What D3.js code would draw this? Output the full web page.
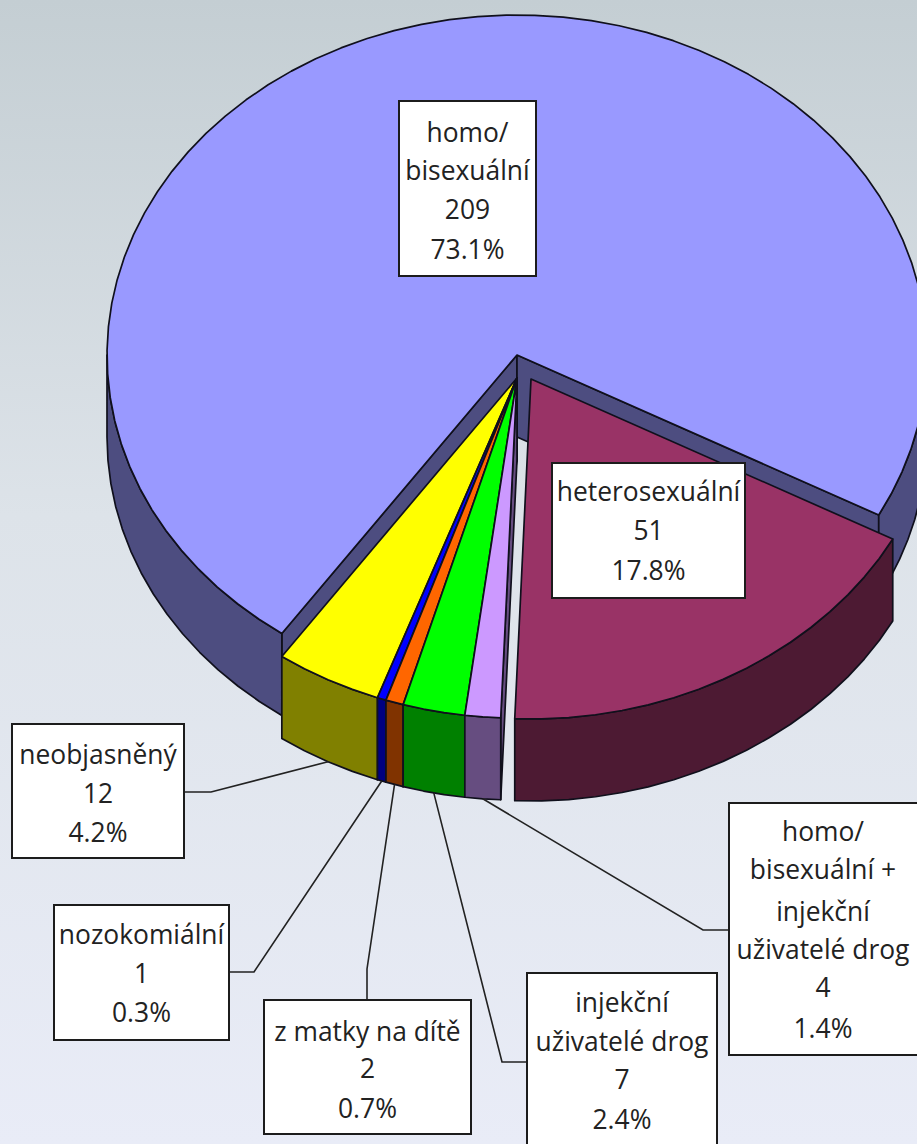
<!DOCTYPE html>
<html>
<head>
<meta charset="utf-8">
<script src="https://cdnjs.cloudflare.com/ajax/libs/d3/7.8.5/d3.min.js"></script>
<style>
  html, body { margin: 0; padding: 0; overflow: hidden; }
  svg { display: block; }
  text { font-family: "Open Sans", "DejaVu Sans", sans-serif; font-size: 26.4px; fill: #222; }
</style>
</head>
<body>
<svg id="chart" width="917" height="1144"></svg>
<script>
  // data
  var categories = [
    ['homo/', 'bisexuální'],
    ['heterosexuální'],
    ['homo/', 'bisexuální +', 'injekční', 'uživatelé drog'],
    ['injekční', 'uživatelé drog'],
    ['z matky na dítě'],
    ['nozokomiální'],
    ['neobjasněný']
  ];
  var counts = [209, 51, 4, 7, 2, 1, 12];
  var percents = ['73.1%', '17.8%', '1.4%', '2.4%', '0.7%', '0.3%', '4.2%'];

  var topColors = ['#9999ff', '#993366', '#cc99ff', '#00ff00', '#ff6600', '#0000ff', '#ffff00'];
  var wallColors = ['#4d4d80', '#4d1a33', '#664d80', '#008000', '#803300', '#000080', '#808000'];

  // layout, same order as the data
  var centers = [[517, 355], [531, 379], [517, 378], [517, 378], [517, 378], [517, 378], [517, 378]];
  var boxes = [
    { x: 399, y: 101, w: 137, h: 175, lineY: [133, 171, 210, 250] },
    { x: 552, y: 463, w: 193, h: 135, lineY: [492, 531, 571] },
    { x: 729, y: 803, w: 190, h: 252, lineY: [832, 870, 912, 950, 988, 1029] },
    { x: 527, y: 973, w: 190, h: 175, lineY: [1003, 1042, 1080, 1120] },
    { x: 264, y: 1000, w: 207, h: 134, lineY: [1032, 1069, 1109] },
    { x: 54, y: 905, w: 175, h: 135, lineY: [935, 974, 1013] },
    { x: 12, y: 724, w: 172, h: 134, lineY: [755, 794, 833] }
  ];
  // leader lines: box end, then elbow, then the rim of the slice
  var leaders = [
    null,
    null,
    [[729, 930], [703, 930]],
    [[527, 1062], [502, 1062]],
    [[367, 1000], [367, 969]],
    [[229, 972], [254, 972]],
    [[184, 792], [211, 792]]
  ];

  var rx = 410, ry = 340, depth = 82;
  var deg = Math.PI / 180;
  var start = 215 * deg;

  var svg = d3.select('#chart');

  var grad = svg.append('defs').append('linearGradient')
    .attr('id', 'bg').attr('x1', 0).attr('y1', 0).attr('x2', 0).attr('y2', 1);
  grad.append('stop').attr('offset', '0%').attr('stop-color', '#c4ced3');
  grad.append('stop').attr('offset', '45%').attr('stop-color', '#dde3e9');
  grad.append('stop').attr('offset', '100%').attr('stop-color', '#e9ecf7');
  svg.append('rect').attr('width', 917).attr('height', 1144).attr('fill', 'url(#bg)');

  var pie = d3.pie().sort(null).startAngle(start).endAngle(start + 2 * Math.PI);
  var slices = pie(counts);

  var line = d3.line();

  function rimPoint(c, a, dy) {
    return [c[0] + rx * Math.sin(a), c[1] - ry * Math.cos(a) + (dy || 0)];
  }

  // rough facets, the source chart has them too
  function rimPoints(c, a0, a1, dy) {
    var pts = [];
    var n = Math.max(1, Math.ceil((a1 - a0) / (4 * deg)));
    for (var i = 0; i <= n; i++) {
      pts.push(rimPoint(c, a0 + (a1 - a0) * i / n, dy));
    }
    return pts;
  }

  function drawPoly(pts, fill) {
    svg.append('path')
      .attr('d', line(pts) + 'Z')
      .attr('fill', fill)
      .attr('stroke', '#10101c')
      .attr('stroke-width', 1.7)
      .attr('stroke-linejoin', 'round');
  }

  function drawOuterWall(c, a0, a1, fill) {
    // only the front half of the rim can be seen
    [[Math.PI / 2, 3 * Math.PI / 2], [5 * Math.PI / 2, 7 * Math.PI / 2]].forEach(function(r) {
      var from = Math.max(a0, r[0]);
      var to = Math.min(a1, r[1]);
      if (from < to) {
        var pts = rimPoints(c, from, to, 0).concat(rimPoints(c, from, to, depth).reverse());
        drawPoly(pts, fill);
      }
    });
  }

  function drawCutWall(c, a, fill) {
    var p = rimPoint(c, a, 0);
    drawPoly([c, p, [p[0], p[1] + depth], [c[0], c[1] + depth]], fill);
  }

  // homo first, hetero next, then the small slices from the left over to the right
  var order = [0, 1, 6, 5, 4, 3, 2];

  order.forEach(function(i) {
    var s = slices[i];
    var c = centers[i];
    if (Math.cos(s.startAngle) < 0 && i !== 1) drawCutWall(c, s.startAngle, wallColors[i]);
    if (i === 0) drawCutWall(c, s.endAngle, wallColors[i]);
    drawOuterWall(c, s.startAngle, s.endAngle, wallColors[i]);
    drawPoly([c].concat(rimPoints(c, s.startAngle, s.endAngle, 0)), topColors[i]);
  });

  // leader lines
  leaders.forEach(function(l, i) {
    if (!l) return;
    var s = slices[i];
    var mid = (s.startAngle + s.endAngle) / 2;
    var end = rimPoint(centers[i], mid, depth);
    svg.append('path')
      .attr('d', line(l.concat([end])))
      .attr('fill', 'none')
      .attr('stroke', '#222')
      .attr('stroke-width', 1.6);
  });

  // label boxes
  boxes.forEach(function(b, i) {
    svg.append('rect')
      .attr('x', b.x).attr('y', b.y)
      .attr('width', b.w).attr('height', b.h)
      .attr('fill', '#fff')
      .attr('stroke', '#1c1c1c')
      .attr('stroke-width', 2);

    var rows = categories[i].concat([String(counts[i]), percents[i]]);
    rows.forEach(function(t, j) {
      svg.append('text')
        .attr('x', b.x + b.w / 2 - (i === 2 ? 1 : 0))
        .attr('y', b.lineY[j])
        .attr('dy', '0.35em')
        .attr('text-anchor', 'middle')
        .text(t);
    });
  });
</script>
</body>
</html>
